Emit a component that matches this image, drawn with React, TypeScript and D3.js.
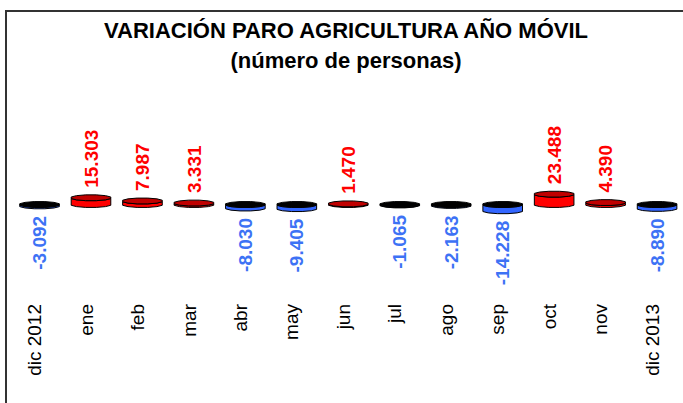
import React from 'react';
import * as d3 from 'd3';

// categorías y variación interanual del paro en agricultura
const months = ['dic 2012', 'ene', 'feb', 'mar', 'abr', 'may', 'jun', 'jul', 'ago', 'sep', 'oct', 'nov', 'dic 2013'];
const variation = [-3092, 15303, 7987, 3331, -8030, -9405, 1470, -1065, -2163, -14228, 23488, 4390, -8890];
const titleLines = ['VARIACIÓN PARO AGRICULTURA AÑO MÓVIL', '(número de personas)'];

const W = 683;
const H = 403;
const FONT = 'Arial, "Liberation Sans", sans-serif';

const esFormat = d3
  .formatLocale({ decimal: ',', thousands: '.', grouping: [3], currency: ['', ''], minus: '-' })
  .format(',d');

const x = d3.scalePoint<string>().domain(months).range([13.8, 682.8]).padding(0.5);
const y = d3.scaleLinear().domain([-25000, 25000]).range([215.5, 193.5]);

const RX = 20.5;
const RY = 3;
const angles = d3.range(12).map((i) => ((15 + 30 * i) * Math.PI) / 180);

// polígono que imita la tapa de un cilindro 3D
const face = (cx: number, cy: number) =>
  d3.line()(angles.map((a) => [cx + RX * Math.cos(a), cy + RY * Math.sin(a)] as [number, number])) + 'Z';

const side = (cx: number, top: number, bottom: number) => {
  const front = angles.filter((a) => Math.sin(a) > 0);
  const pts: [number, number][] = [
    ...front.map((a) => [cx + RX * Math.cos(a), top + RY * Math.sin(a)] as [number, number]),
    ...front
      .slice()
      .reverse()
      .map((a) => [cx + RX * Math.cos(a), bottom + RY * Math.sin(a)] as [number, number]),
  ];
  return d3.line()(pts) + 'Z';
};

export default function App() {
  const y0 = y(0);
  return (
    <svg width={W} height={H} style={{ position: 'absolute', left: 0, top: 0, background: '#fff' }}>
      <rect x={6} y={11} width={720} height={440} fill="#fff" stroke="#333" strokeWidth={2} />
      <text x={346} y={38} textAnchor="middle" fontFamily={FONT} fontWeight="bold" fontSize={22} fill="#000">
        {titleLines[0]}
      </text>
      <text x={346} y={68} textAnchor="middle" fontFamily={FONT} fontWeight="bold" fontSize={22} fill="#000">
        {titleLines[1]}
      </text>
      {months.map((m, i) => {
        const v = variation[i];
        const cx = x(m) as number;
        const yv = y(v);
        const pos = v >= 0;
        const top = pos ? yv : y0;
        const bottom = pos ? y0 : yv;
        return (
          <g key={m}>
            <path d={side(cx, top, bottom)} fill={pos ? '#ff0000' : '#3366ff'} stroke="#000" strokeWidth={1} />
            <path d={face(cx, top)} fill={pos ? '#c00000' : '#000'} stroke="#000" strokeWidth={1} />
            {pos ? (
              <text
                transform={`translate(${cx},${top - RY - 7}) rotate(-90)`}
                dy="0.35em"
                textAnchor="start"
                fontFamily={FONT}
                fontWeight="bold"
                fontSize={19}
                fill="#ff0000"
              >
                {esFormat(v)}
              </text>
            ) : (
              <text
                transform={`translate(${cx},${bottom + RY + 7}) rotate(-90)`}
                dy="0.35em"
                textAnchor="end"
                fontFamily={FONT}
                fontWeight="bold"
                fontSize={19}
                fill="#3d72f5"
              >
                {esFormat(v)}
              </text>
            )}
            <text
              transform={`translate(${cx - 5},304) rotate(-90)`}
              dy="0.35em"
              textAnchor="end"
              fontFamily={FONT}
              fontSize={19}
              fill="#000"
            >
              {m}
            </text>
          </g>
        );
      })}
    </svg>
  );
}
